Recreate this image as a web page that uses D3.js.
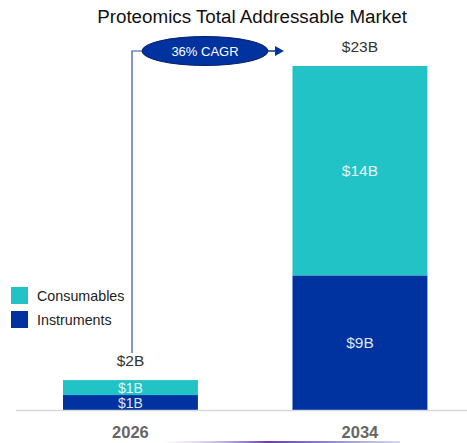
<!DOCTYPE html>
<html>
<head>
<meta charset="utf-8">
<script src="https://cdn.jsdelivr.net/npm/d3@7"></script>
<style>
  html, body { margin: 0; padding: 0; background: #fff; }
  svg { display: block; font-family: "Liberation Sans", Arial, sans-serif; }
</style>
</head>
<body>
<svg id="chart" width="467" height="443"></svg>
<script>
// Market size by year, in $B
const years = ["2026", "2034"];
const instruments = [1, 9];
const consumables = [1, 14];
const totals = [2, 23];
const seriesNames = ["Consumables", "Instruments"];
const cagrLabel = "36% CAGR";
const title = "Proteomics Total Addressable Market";

const colors = { Consumables: "#22C3C7", Instruments: "#0033A0" };

const svg = d3.select("#chart");
const W = 467, H = 443;
const baseY = 410;

const x = d3.scaleBand().domain(years).range([0, 490.4])
  .paddingInner(0.412).paddingOuter(0.2745);
const y = d3.scaleLinear().domain([0, 23]).range([baseY, 66]);

// title
svg.append("text")
  .attr("x", 252).attr("y", 23)
  .attr("text-anchor", "middle")
  .attr("font-size", 18.8)
  .attr("fill", "#111")
  .text(title);

// stacked bars
const rows = years.map((yr, i) => ({ year: yr, Instruments: instruments[i], Consumables: consumables[i] }));
const stack = d3.stack().keys(["Instruments", "Consumables"]);
const layers = stack(rows);

const bx = d => x(d.data.year);
const cxOf = yr => x(yr) + x.bandwidth() / 2;

layers.forEach(layer => {
  const g = svg.append("g");
  g.selectAll("rect").data(layer).join("rect")
    .attr("x", bx)
    .attr("width", x.bandwidth())
    .attr("y", d => y(d[1]))
    .attr("height", d => y(d[0]) - y(d[1]))
    .attr("fill", colors[layer.key]);
  g.selectAll("text").data(layer).join("text")
    .attr("x", d => cxOf(d.data.year))
    .attr("y", d => {
      const h = y(d[0]) - y(d[1]);
      return (y(d[0]) + y(d[1])) / 2 + (h < 20 ? 5 : 5.5);
    })
    .attr("text-anchor", "middle")
    .attr("font-size", d => (y(d[0]) - y(d[1]) < 20 ? 14 : 15.5))
    .attr("fill", layer.key === "Consumables" ? "#e6f8f8" : "#dfe6f5")
    .text(d => "$" + (d[1] - d[0]) + "B");
});

// totals above bars
svg.selectAll("text.total").data(rows).join("text")
  .attr("class", "total")
  .attr("x", d => cxOf(d.year))
  .attr("y", (d, i) => y(totals[i]) - 14)
  .attr("text-anchor", "middle")
  .attr("font-size", 15.5)
  .attr("fill", "#333")
  .text((d, i) => "$" + totals[i] + "B");

// baseline
svg.append("line")
  .attr("x1", 16).attr("x2", W).attr("y1", baseY + 0.5).attr("y2", baseY + 0.5)
  .attr("stroke", "#d9d9d9").attr("stroke-width", 1.5);

// category axis labels
svg.selectAll("text.cat").data(years).join("text")
  .attr("class", "cat")
  .attr("x", d => cxOf(d))
  .attr("y", 438)
  .attr("text-anchor", "middle")
  .attr("font-size", 16.5)
  .attr("font-weight", "bold")
  .attr("fill", "#666")
  .text(d => d);

// CAGR connector
const cx = 205, cy = 51;
svg.append("path")
  .attr("d", `M132,353 V${cy} H${cx - 63}`)
  .attr("fill", "none").attr("stroke", "#2f53a8").attr("stroke-width", 1.2);
svg.append("line")
  .attr("x1", cx + 63).attr("x2", 276).attr("y1", cy).attr("y2", cy)
  .attr("stroke", "#0033A0").attr("stroke-width", 1.5);
svg.append("path")
  .attr("d", `M275,${cy - 5} L284,${cy} L275,${cy + 5} Z`)
  .attr("fill", "#0033A0");
svg.append("ellipse")
  .attr("cx", cx).attr("cy", cy).attr("rx", 63).attr("ry", 14.5)
  .attr("fill", "#0033A0").attr("stroke", "#0a1f66").attr("stroke-width", 1);
svg.append("text")
  .attr("x", cx).attr("y", cy + 5)
  .attr("text-anchor", "middle")
  .attr("font-size", 13)
  .attr("fill", "#fff")
  .text(cagrLabel);

// legend
const leg = svg.append("g").attr("transform", "translate(11,287)");
seriesNames.forEach((name, i) => {
  leg.append("rect")
    .attr("x", 0).attr("y", i * 24).attr("width", 17).attr("height", 17)
    .attr("fill", colors[name]);
  leg.append("text")
    .attr("x", 26).attr("y", i * 24 + 14)
    .attr("font-size", 14.3).attr("fill", "#222")
    .text(name);
});

// faint decorative glow at bottom edge
const grad = svg.append("defs").append("linearGradient").attr("id", "glow");
grad.append("stop").attr("offset", "0").attr("stop-color", "#c9c4e8").attr("stop-opacity", 0);
grad.append("stop").attr("offset", "0.45").attr("stop-color", "#6a3fa8");
grad.append("stop").attr("offset", "1").attr("stop-color", "#3a4aa8").attr("stop-opacity", 0.2);
svg.append("rect")
  .attr("x", 160).attr("y", 441).attr("width", 240).attr("height", 2)
  .attr("fill", "url(#glow)");
</script>
</body>
</html>
